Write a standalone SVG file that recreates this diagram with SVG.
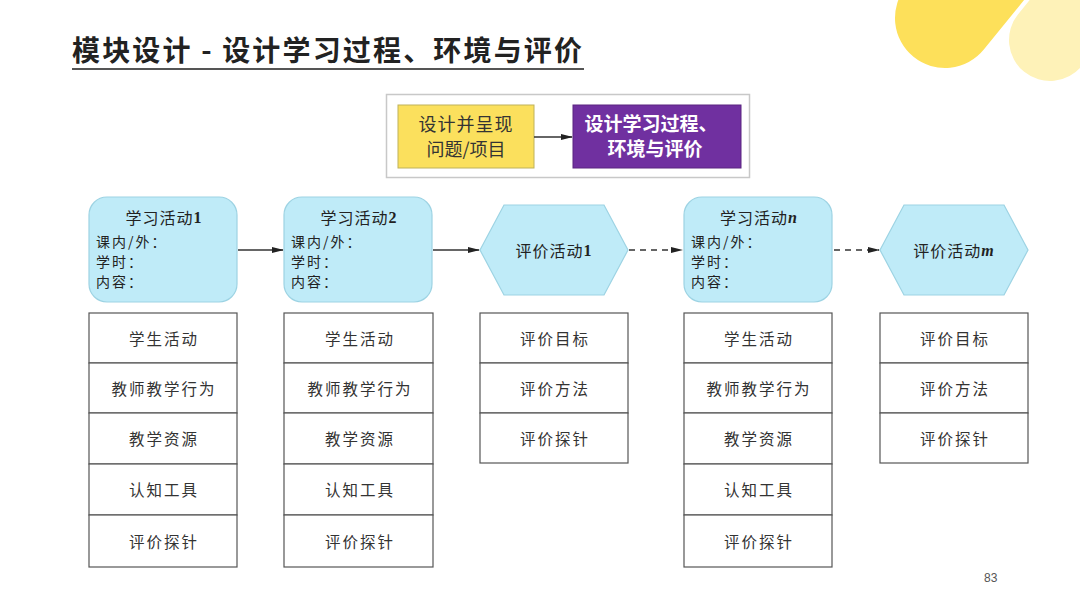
<svg xmlns="http://www.w3.org/2000/svg" width="1080" height="608" viewBox="0 0 1080 608">
<style>
.cj{font-family:"Noto Sans CJK SC","Liberation Sans",sans-serif;}
.act{fill:#BFEBF8;stroke:#9DD3E3;stroke-width:1.2;}
.cell{fill:#fff;stroke:#555;stroke-width:1.2;}
.ct{font-family:"Noto Sans CJK SC",sans-serif;font-size:15.5px;fill:#333;letter-spacing:2px;text-anchor:middle;dominant-baseline:central;}
.at{font-family:"Noto Sans CJK SC",sans-serif;font-size:16px;fill:#222;dominant-baseline:central;letter-spacing:1px;}
.ln{font-family:"Noto Sans CJK SC",sans-serif;font-size:14px;fill:#222;dominant-baseline:central;letter-spacing:2px;}
.num{font-family:"Liberation Serif",serif;font-weight:bold;}
.con{stroke:#333;stroke-width:1.5;fill:none;}
.dash{stroke-dasharray:6,5;}
</style>
<defs>
<marker id="ah" markerWidth="12" markerHeight="8" refX="11" refY="4" orient="auto" markerUnits="userSpaceOnUse">
<path d="M0,1 L12,4 L0,7 Z" fill="#222"/>
</marker>
</defs>
<rect width="1080" height="608" fill="#fff"/>
<g id="deco">
<line x1="945" y1="18" x2="1010" y2="-62" stroke="#FDE05A" stroke-width="100" stroke-linecap="round"/>
<line x1="1050" y1="40" x2="1110" y2="-34" stroke="#FEF2B8" stroke-width="82" stroke-linecap="round"/>
</g>
<g id="title">
<text x="72" y="61" class="cj" font-size="28" font-weight="bold" fill="#222" textLength="510" lengthAdjust="spacing">模块设计 - 设计学习过程、环境与评价</text>
<line x1="72" y1="69" x2="584" y2="69" stroke="#555" stroke-width="2"/>
</g>
<g id="header">
<rect x="386.5" y="94.5" width="363" height="83" fill="#fff" stroke="#C8C8C8" stroke-width="1.5"/>
<g id="yellow">
<rect x="398" y="105" width="136" height="63" fill="#FBE05D" stroke="#BFB25A" stroke-width="1"/>
<text x="466" y="123" class="cj" font-size="18" fill="#333" text-anchor="middle" dominant-baseline="central" letter-spacing="1">设计并呈现</text>
<text x="466" y="148" class="cj" font-size="18" fill="#333" text-anchor="middle" dominant-baseline="central">问题/项目</text>
</g>
<g id="purple">
<rect x="573" y="105" width="168" height="63" fill="#7030A0" stroke="#5A2580" stroke-width="1"/>
<text x="651" y="122" class="cj" font-size="19" font-weight="bold" fill="#fff" text-anchor="middle" dominant-baseline="central">设计学习过程、</text>
<text x="655" y="147" class="cj" font-size="19" font-weight="bold" fill="#fff" text-anchor="middle" dominant-baseline="central">环境与评价</text>
</g>
</g>
<g id="connectors">
<line class="con" x1="534" y1="137" x2="572" y2="137" marker-end="url(#ah)"/>
<line class="con" x1="238" y1="250" x2="283" y2="250" marker-end="url(#ah)"/>
<line class="con" x1="433" y1="250" x2="479" y2="250" marker-end="url(#ah)"/>
<line class="con dash" x1="629" y1="250" x2="682" y2="250" marker-end="url(#ah)"/>
<line class="con dash" x1="834" y1="250" x2="879" y2="250" marker-end="url(#ah)"/>
</g>
<g id="act1">
<rect class="act" x="89" y="197" width="148" height="105" rx="18"/>
<text class="at" x="164" y="217" text-anchor="middle" letter-spacing="2">学习活动<tspan class="num">1</tspan></text>
<text class="ln" x="96" y="241">课内/外：</text>
<text class="ln" x="96" y="261">学时：</text>
<text class="ln" x="96" y="281">内容：</text>
</g>
<g id="act2">
<rect class="act" x="284" y="197" width="148" height="105" rx="18"/>
<text class="at" x="359" y="217" text-anchor="middle" letter-spacing="2">学习活动<tspan class="num">2</tspan></text>
<text class="ln" x="291" y="241">课内/外：</text>
<text class="ln" x="291" y="261">学时：</text>
<text class="ln" x="291" y="281">内容：</text>
</g>
<g id="eval1">
<polygon class="act" points="480,250 504,205 604,205 628,250 604,295 504,295"/>
<text class="at" x="554" y="250" text-anchor="middle" letter-spacing="2">评价活动<tspan class="num">1</tspan></text>
</g>
<g id="actn">
<rect class="act" x="684" y="197" width="148" height="105" rx="18"/>
<text class="at" x="759" y="217" text-anchor="middle" letter-spacing="2">学习活动<tspan class="num" font-style="italic">n</tspan></text>
<text class="ln" x="691" y="241">课内/外：</text>
<text class="ln" x="691" y="261">学时：</text>
<text class="ln" x="691" y="281">内容：</text>
</g>
<g id="evalm">
<polygon class="act" points="880,250 904,205 1004,205 1028,250 1004,295 904,295"/>
<text class="at" x="954" y="250" text-anchor="middle" letter-spacing="2">评价活动<tspan class="num" font-style="italic">m</tspan></text>
</g>
<g id="table1">
<rect class="cell" x="89" y="313" width="148" height="50"/>
<rect class="cell" x="89" y="363" width="148" height="50"/>
<rect class="cell" x="89" y="413" width="148" height="51"/>
<rect class="cell" x="89" y="464" width="148" height="51"/>
<rect class="cell" x="89" y="515" width="148" height="52"/>
<text class="ct" x="164" y="338">学生活动</text>
<text class="ct" x="164" y="388">教师教学行为</text>
<text class="ct" x="164" y="438">教学资源</text>
<text class="ct" x="164" y="489">认知工具</text>
<text class="ct" x="164" y="541">评价探针</text>
</g>
<g id="table2">
<rect class="cell" x="284" y="313" width="149" height="50"/>
<rect class="cell" x="284" y="363" width="149" height="50"/>
<rect class="cell" x="284" y="413" width="149" height="51"/>
<rect class="cell" x="284" y="464" width="149" height="51"/>
<rect class="cell" x="284" y="515" width="149" height="52"/>
<text class="ct" x="360" y="338">学生活动</text>
<text class="ct" x="360" y="388">教师教学行为</text>
<text class="ct" x="360" y="438">教学资源</text>
<text class="ct" x="360" y="489">认知工具</text>
<text class="ct" x="360" y="541">评价探针</text>
</g>
<g id="table3">
<rect class="cell" x="480" y="313" width="148" height="50"/>
<rect class="cell" x="480" y="363" width="148" height="50"/>
<rect class="cell" x="480" y="413" width="148" height="50"/>
<text class="ct" x="555" y="338">评价目标</text>
<text class="ct" x="555" y="388">评价方法</text>
<text class="ct" x="555" y="438">评价探针</text>
</g>
<g id="table4">
<rect class="cell" x="684" y="313" width="148" height="50"/>
<rect class="cell" x="684" y="363" width="148" height="50"/>
<rect class="cell" x="684" y="413" width="148" height="51"/>
<rect class="cell" x="684" y="464" width="148" height="51"/>
<rect class="cell" x="684" y="515" width="148" height="52"/>
<text class="ct" x="759" y="338">学生活动</text>
<text class="ct" x="759" y="388">教师教学行为</text>
<text class="ct" x="759" y="438">教学资源</text>
<text class="ct" x="759" y="489">认知工具</text>
<text class="ct" x="759" y="541">评价探针</text>
</g>
<g id="table5">
<rect class="cell" x="880" y="313" width="148" height="50"/>
<rect class="cell" x="880" y="363" width="148" height="50"/>
<rect class="cell" x="880" y="413" width="148" height="50"/>
<text class="ct" x="955" y="338">评价目标</text>
<text class="ct" x="955" y="388">评价方法</text>
<text class="ct" x="955" y="438">评价探针</text>
</g>
<text x="984" y="582" font-family="Liberation Sans,sans-serif" font-size="12" fill="#555">83</text>
</svg>
